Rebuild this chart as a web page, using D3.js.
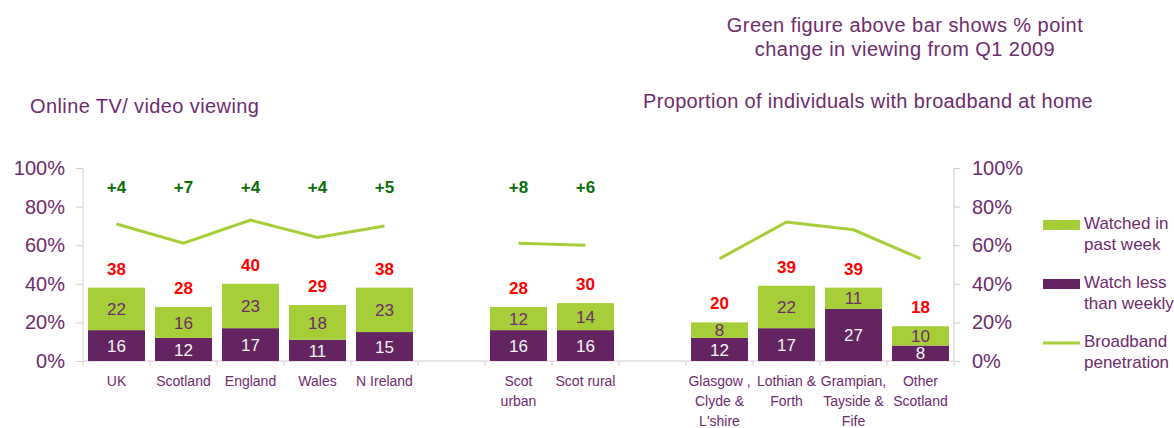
<!DOCTYPE html>
<html>
<head>
<meta charset="utf-8">
<script src="https://cdn.jsdelivr.net/npm/d3@7"></script>
<style>
  body { margin: 0; background: #fff; }
  svg text { font-family: "Liberation Sans", Arial, sans-serif; }
</style>
</head>
<body>
<svg id="chart" width="1174" height="428"></svg>
<script>
// ── Data ──
const categories = ["UK", "Scotland", "England", "Wales", "N Ireland",
  "Scot urban", "Scot rural",
  "Glasgow ,\nClyde &\nL'shire", "Lothian &\nForth", "Grampian,\nTayside &\nFife", "Other\nScotland"];
const xLabels = ["UK", "Scotland", "England", "Wales", "N Ireland",
  "Scot\nurban", "Scot rural",
  "Glasgow ,\nClyde &\nL'shire", "Lothian &\nForth", "Grampian,\nTayside &\nFife", "Other\nScotland"];
const groupOf        = [0, 0, 0, 0, 0, 1, 1, 2, 2, 2, 2];
const lessThanWeekly = [16, 12, 17, 11, 15, 16, 16, 12, 17, 27, 8];
const pastWeek       = [22, 16, 23, 18, 23, 12, 14, 8, 22, 11, 10];
const totals         = [38, 28, 40, 29, 38, 28, 30, 20, 39, 39, 18];
const changes        = ["+4", "+7", "+4", "+4", "+5", "+8", "+6", null, null, null, null];
const broadband      = [71, 61, 73, 64, 70, 61, 60, 53, 72, 68, 53];
const yTicks = [0, 20, 40, 60, 80, 100];

const GREEN = "#a6ce39", PURPLE = "#632461", TEXT = "#6e2c6c", AXIS = "#cfcfcf";

const svg = d3.select("#chart");
const plotL = 83, plotR = 954, plotT = 168, plotB = 361;

// slot keys: categories plus an empty slot between groups
const slots = [];
categories.forEach((c, i) => {
  if (i > 0 && groupOf[i] !== groupOf[i - 1]) slots.push("gap" + groupOf[i]);
  slots.push(c);
});

const x = d3.scaleBand().domain(slots).range([plotL, plotR])
  .paddingInner(0.15).paddingOuter(0.075);
const y = d3.scaleLinear().domain([0, 100]).range([plotB, plotT]);

const rows = categories.map((c, i) => ({
  cat: c, label: xLabels[i], group: groupOf[i],
  less: lessThanWeekly[i], week: pastWeek[i], total: totals[i],
  change: changes[i], bb: broadband[i]
}));

// ── Axes ──
const yLeft = d3.axisLeft(y).tickValues(yTicks).tickSize(7).tickFormat(d => d + "%");
const gL = svg.append("g").attr("transform", `translate(${plotL},0)`).call(yLeft);
const yRight = d3.axisRight(y).tickValues(yTicks).tickSize(6).tickFormat(d => d + "%");
const gR = svg.append("g").attr("transform", `translate(${plotR},0)`).call(yRight);
[gL, gR].forEach(g => {
  g.select(".domain").attr("stroke", AXIS).attr("d", `M0,${plotT}V${plotB}`);
  g.selectAll(".tick line").attr("stroke", AXIS);
  g.selectAll(".tick text").attr("fill", TEXT).attr("font-size", 20)
    .attr("font-family", "Liberation Sans, Arial, sans-serif");
});
gL.selectAll(".tick text").attr("x", -18);
gR.selectAll(".tick text").attr("x", 18);

// baseline with slot ticks
svg.append("line").attr("x1", plotL).attr("x2", plotR).attr("y1", plotB).attr("y2", plotB)
  .attr("stroke", AXIS);
const step = x.step();
d3.range(slots.length + 1).forEach(i => {
  const xx = plotL + i * step;
  svg.append("line").attr("x1", xx).attr("x2", xx).attr("y1", plotB).attr("y2", plotB + 5)
    .attr("stroke", AXIS);
});

// ── Stacked bars ──
const stack = d3.stack().keys(["less", "week"])(rows);
const colors = { less: PURPLE, week: GREEN };
stack.forEach(layer => {
  svg.append("g").selectAll("rect").data(layer).join("rect")
    .attr("x", d => x(d.data.cat))
    .attr("width", x.bandwidth())
    .attr("y", d => y(d[1]))
    .attr("height", d => y(d[0]) - y(d[1]))
    .attr("fill", colors[layer.key]);
  svg.append("g").selectAll("text").data(layer).join("text")
    .attr("x", d => x(d.data.cat) + x.bandwidth() / 2)
    .attr("y", d => (y(d[0]) + y(d[1])) / 2)
    .attr("dy", "0.36em")
    .attr("text-anchor", "middle")
    .attr("font-size", 17)
    .attr("fill", layer.key === "less" ? "#f4f4f4" : TEXT)
    .text(d => d.data[layer.key]);
});

// totals above bars
svg.append("g").selectAll("text").data(rows).join("text")
  .attr("x", d => x(d.cat) + x.bandwidth() / 2)
  .attr("y", d => y(d.less + d.week) - 13)
  .attr("text-anchor", "middle")
  .attr("font-size", 17).attr("font-weight", "bold").attr("fill", "#ff0000")
  .text(d => d.total);

// change figures
svg.append("g").selectAll("text").data(rows.filter(d => d.change)).join("text")
  .attr("x", d => x(d.cat) + x.bandwidth() / 2)
  .attr("y", y(90) + 6)
  .attr("text-anchor", "middle")
  .attr("font-size", 17).attr("font-weight", "bold").attr("fill", "#0a6e0a")
  .text(d => d.change);

// ── Broadband line, one segment per group ──
const line = d3.line().x(d => x(d.cat) + x.bandwidth() / 2).y(d => y(d.bb));
d3.groups(rows, d => d.group).forEach(([, g]) => {
  svg.append("path").datum(g).attr("d", line)
    .attr("fill", "none").attr("stroke", GREEN).attr("stroke-width", 3);
});

// ── X labels ──
svg.append("g").selectAll("text").data(rows).join("text")
  .attr("x", d => x(d.cat) + x.bandwidth() / 2)
  .attr("y", 386)
  .attr("text-anchor", "middle")
  .attr("font-size", 14).attr("fill", TEXT)
  .each(function(d) {
    d3.select(this).selectAll("tspan").data(d.label.split("\n")).join("tspan")
      .attr("x", x(d.cat) + x.bandwidth() / 2)
      .attr("dy", (t, i) => i === 0 ? 0 : 20)
      .text(t => t);
  });

// ── Titles ──
svg.append("text").attr("x", 30).attr("y", 113).attr("font-size", 20)
  .attr("letter-spacing", 0.4).attr("fill", TEXT)
  .text("Online TV/ video viewing");
svg.append("text").attr("x", 643).attr("y", 108).attr("font-size", 20)
  .attr("letter-spacing", 0.34).attr("fill", TEXT)
  .text("Proportion of individuals with broadband at home");
svg.append("text").attr("text-anchor", "middle").attr("font-size", 20)
  .attr("letter-spacing", 0.45).attr("fill", TEXT)
  .selectAll("tspan").data(["Green figure above bar shows % point", "change in viewing from Q1 2009"])
  .join("tspan").attr("x", 905).attr("y", (t, i) => 32 + i * 24).text(t => t);

// ── Legend ──
const legend = [
  { type: "rect", color: GREEN, lines: ["Watched in", "past week"], y: 220 },
  { type: "rect", color: PURPLE, lines: ["Watch less", "than weekly"], y: 279 },
  { type: "line", color: GREEN, lines: ["Broadband", "penetration"], y: 338 }
];
legend.forEach(l => {
  if (l.type === "rect") {
    svg.append("rect").attr("x", 1043).attr("y", l.y).attr("width", 37).attr("height", 10).attr("fill", l.color);
  } else {
    svg.append("line").attr("x1", 1043).attr("x2", 1080).attr("y1", l.y + 5).attr("y2", l.y + 5)
      .attr("stroke", l.color).attr("stroke-width", 3);
  }
  svg.append("text").attr("font-size", 17).attr("fill", TEXT)
    .selectAll("tspan").data(l.lines).join("tspan")
    .attr("x", 1084).attr("y", (t, i) => l.y + 9 + i * 21).text(t => t);
});
</script>
</body>
</html>
